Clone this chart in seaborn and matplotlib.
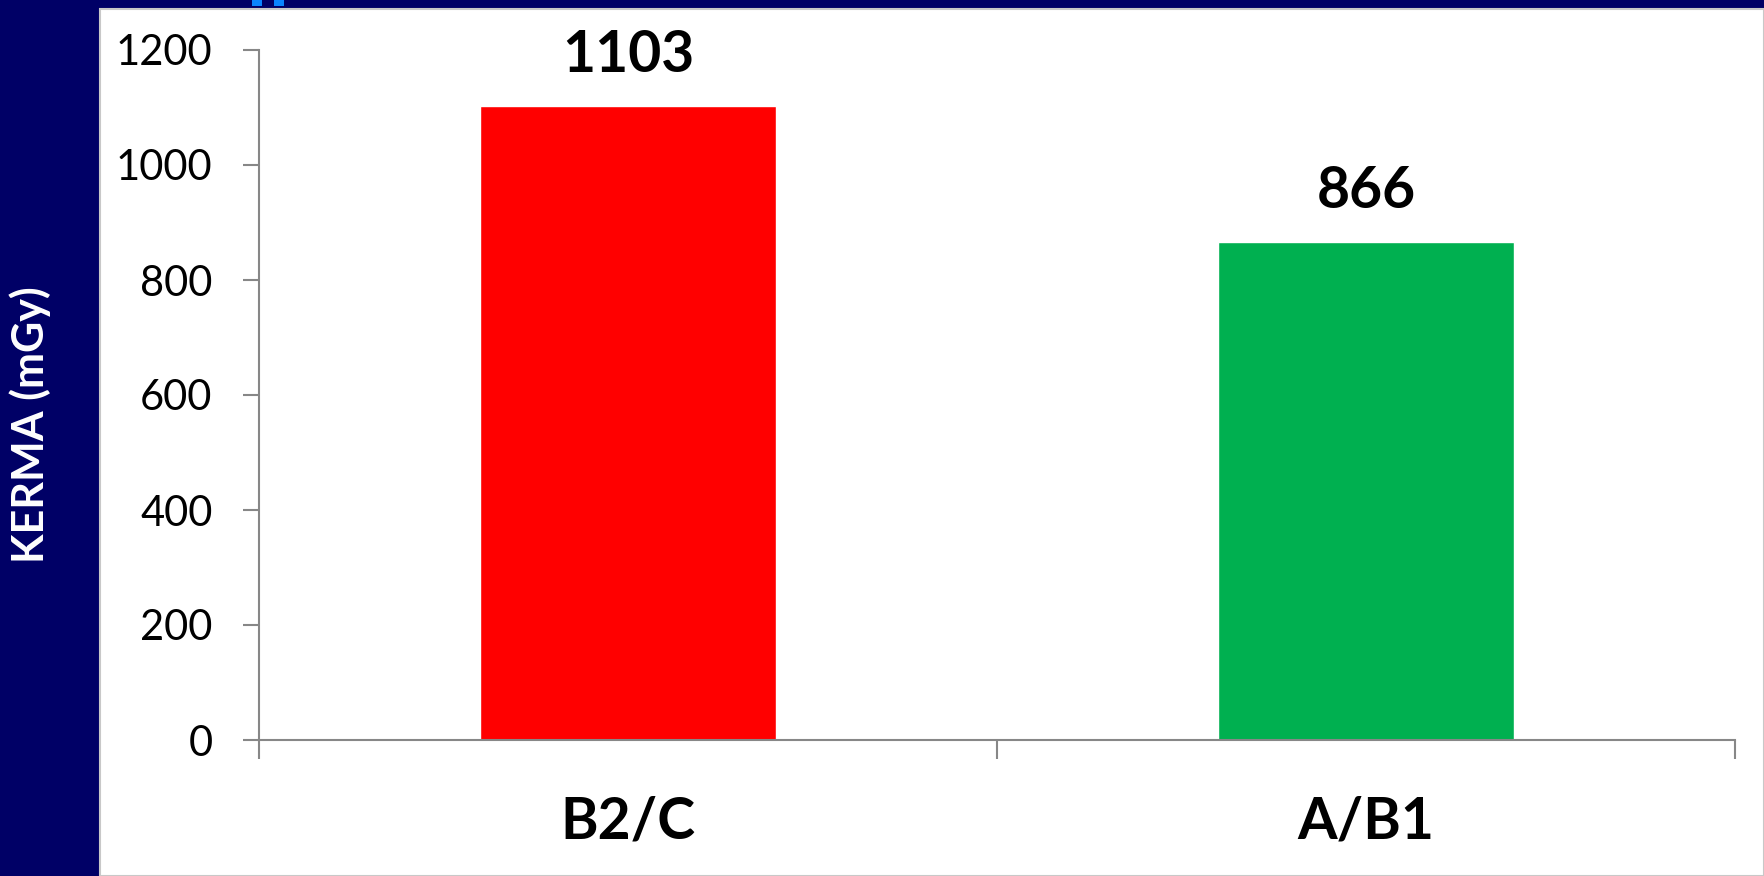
import matplotlib
matplotlib.use("Agg")
import matplotlib.pyplot as plt
import matplotlib.patches as mpatches
import seaborn as sns
import pandas as pd

# ── data ─────────────────────────────────────────────────────────────────────
categories = ["B2/C", "A/B1"]
kerma_mgy = [1103, 866]
bar_colors = ["#FF0000", "#00B050"]
y_ticks = [0, 200, 400, 600, 800, 1000, 1200]

NAVY = "#000066"
GREY = "#878787"

df = pd.DataFrame({"group": categories, "kerma": kerma_mgy})

sns.set_theme(style="white")
plt.rcParams["font.family"] = ["Lato", "DejaVu Sans"]

fig = plt.figure(figsize=(17.64, 8.76), dpi=100)
fig.patch.set_facecolor(NAVY)

# white slide panel + small blue marks at the top edge
fig.patches.append(mpatches.Rectangle((100 / 1764, 0), 1 - 100 / 1764, 1 - 9 / 876,
                                      transform=fig.transFigure, facecolor="white",
                                      edgecolor="#C8C8C8", linewidth=1.5, zorder=-2))
for x0 in (252, 274):
    fig.patches.append(mpatches.Rectangle((x0 / 1764, 1 - 6 / 876), 10 / 1764, 6 / 876,
                                          transform=fig.transFigure, facecolor="#0A84FF",
                                          edgecolor="none", zorder=-1))

ax = fig.add_axes([259 / 1764, 1 - 740 / 876, (1735 - 259) / 1764, (740 - 50) / 876])
ax.set_facecolor("none")
ax.set_zorder(2)

sns.barplot(data=df, x="group", y="kerma", hue="group", palette=bar_colors,
            width=0.4, saturation=1, legend=False, ax=ax)

ax.set_ylim(0, 1200)
ax.set_xlim(-0.5, 1.5)
ax.set_yticks(y_ticks)

for i, v in enumerate(kerma_mgy):
    ax.text(i, v + 42, str(v), ha="center", va="bottom",
            fontsize=41, fontweight="bold", color="black")

# axes styling
for side in ("top", "right"):
    ax.spines[side].set_visible(False)
for side in ("left", "bottom"):
    ax.spines[side].set_color(GREY)
    ax.spines[side].set_linewidth(1.5)

ax.tick_params(axis="y", direction="out", length=11.5, width=1.5, color=GREY,
               labelsize=30, labelcolor="black", pad=22, left=True)
ax.tick_params(axis="x", which="major", length=0, labelsize=41, pad=40,
               labelcolor="black")
ax.set_xticks([-0.5, 0.5, 1.5], minor=True)
ax.tick_params(axis="x", which="minor", direction="out", length=14, width=1.5,
               color=GREY, bottom=True)
for lbl in ax.get_xticklabels():
    lbl.set_fontweight("bold")

ax.set_xlabel("")
ax.set_ylabel("")
fig.text(30 / 1764, 1 - 425 / 876, "KERMA (mGy)", rotation=90, ha="center",
         va="center", color="white", fontsize=31, fontweight="bold")

fig.savefig("out.png", dpi=100, facecolor=fig.get_facecolor())
